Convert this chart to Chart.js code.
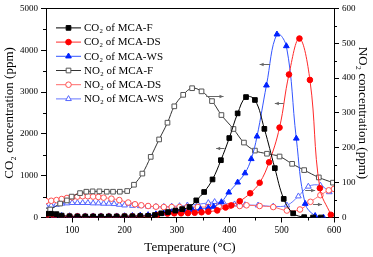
<!DOCTYPE html>
<html>
<head>
<meta charset="utf-8">
<script src="https://cdn.jsdelivr.net/npm/chart.js@4.4.0/dist/chart.umd.min.js"></script>
<style>
    html, body { margin: 0; padding: 0; background: #fff; }
</style>
</head>
<body>
<canvas id="grafico" width="373" height="257"></canvas>
<script>
//===============================================================
// ============================ DADOS ===========================
//===============================================================

// CO2 (eixo esquerdo, ppm)
const tCO2F = [50, 60, 70, 80, 95, 110, 125, 140, 155, 170, 185, 200, 215, 230, 245, 258, 270, 283, 297, 310, 324, 337, 352, 368, 384, 400, 416, 432, 449, 467, 487, 504, 522, 543, 560, 575];
const co2F  = [90, 90, 80, 45, 30, 25, 25, 25, 25, 25, 25, 30, 30, 35, 40, 60, 100, 130, 165, 200, 250, 410, 610, 910, 1370, 1900, 2490, 2880, 2810, 2120, 1180, 445, 100, 8, 0, 0];

const tCO2DS = [50, 65, 80, 95, 110, 125, 140, 155, 170, 185, 200, 215, 230, 245, 262, 282, 295, 308, 321, 334, 347, 360, 377, 393, 404, 420, 440, 458, 476, 496, 514, 534, 554, 573, 594];
const co2DS  = [30, 30, 25, 25, 25, 20, 20, 20, 20, 20, 25, 25, 30, 35, 60, 95, 100, 100, 105, 115, 125, 140, 170, 240, 290, 390, 580, 830, 1320, 2150, 3420, 4280, 3290, 700, 65];

const tCO2WS = [50, 65, 80, 95, 110, 125, 140, 155, 170, 185, 200, 215, 230, 245, 260, 275, 290, 300, 314, 330, 345, 360, 370, 385, 399, 416, 430, 442, 453, 471, 491, 509, 528, 545, 564, 580];
const co2WS  = [50, 45, 40, 35, 30, 30, 30, 30, 30, 30, 35, 40, 50, 60, 80, 100, 130, 150, 160, 180, 200, 230, 260, 370, 600, 840, 1060, 1400, 1940, 3160, 4380, 4100, 1890, 330, 40, 0];

// NO2 (eixo direito, ppm)
const tNO2F = [50, 58, 77, 90, 99, 115, 127, 139, 152, 166, 178, 191, 205, 218, 234, 250, 266, 282, 295, 312, 329, 347, 367, 385, 408, 428, 449, 472, 496, 520, 543, 571, 598];
const no2F  = [20, 23, 40, 49, 60, 70, 74, 75, 75, 74, 74, 74, 76, 94, 126, 174, 224, 272, 319, 352, 371, 362, 334, 294, 254, 215, 192, 183, 175, 154, 136, 115, 100];

const tNO2DS = [50, 60, 70, 80, 90, 100, 110, 120, 130, 140, 150, 160, 175, 190, 207, 220, 232, 245, 260, 275, 290, 305, 320, 340, 360, 380, 400, 420, 433, 458, 484, 510, 535, 555, 574, 590, 600];
const no2DS  = [47, 48, 50, 53, 56, 58, 60, 61, 61, 60, 59, 57, 54, 50, 43, 38, 35, 33, 31, 30, 30, 30, 30, 30, 30, 32, 33, 33, 35, 33, 30, 20, 23, 45, 64, 78, 82];

const tNO2WS = [50, 60, 70, 80, 90, 100, 110, 120, 130, 140, 150, 160, 170, 180, 190, 200, 215, 230, 245, 260, 275, 290, 305, 320, 340, 360, 372, 390, 410, 430, 455, 484, 510, 532, 551, 574, 591];
const no2WS  = [32, 34, 37, 40, 41, 42, 42, 42, 42, 41, 41, 40, 40, 39, 37, 35, 34, 33, 32, 31, 31, 32, 33, 35, 38, 42, 45, 40, 38, 36, 35, 32, 35, 61, 89, 92, 73];

const ticksX  = [100, 200, 300, 400, 500, 600];
const ticksY  = [0, 1000, 2000, 3000, 4000, 5000];
const ticksY1 = [0, 100, 200, 300, 400, 500, 600];

const legendas = [
    "CO₂ of MCA-F",
    "CO₂ of MCA-DS",
    "CO₂ of MCA-WS",
    "NO₂ of MCA-F",
    "NO₂ of MCA-DS",
    "NO₂ of MCA-WS"
];

// setas indicando o eixo de cada curva (temperatura inicial, final, valor no eixo esquerdo)
const setas = [
    [356, 389, 2900],
    [478, 458, 3680],
    [504, 487, 2742],
    [391, 375, 1662],
    [545, 564, 662],
    [560, 577, 333]
];

//===============================================================
// ========================== FUNÇÕES ===========================
//===============================================================

function pontos(ts, vs) {
    return ts.map((t, i) => ({ x: t, y: vs[i] }));
}

function serie(label, dados, eixo, cor, corPonto, fundo, estilo, raio) {
    return {
        label: label,
        data: dados,
        yAxisID: eixo,
        borderColor: cor,
        borderWidth: 1,
        pointStyle: estilo,
        pointRadius: raio,
        pointHoverRadius: raio,
        pointBackgroundColor: fundo,
        pointBorderColor: corPonto,
        pointBorderWidth: 1,
        tension: 0.4,
        fill: false
    };
}

const fonteSerif = "'Liberation Serif', 'Times New Roman', serif";

const datasets = [
    serie(legendas[0], pontos(tCO2F, co2F), "y", "#000000", "#000000", "#000000", "rect", 3.3),
    serie(legendas[1], pontos(tCO2DS, co2DS), "y", "#ff2a2a", "#ff0000", "#ff0000", "circle", 2.8),
    serie(legendas[2], pontos(tCO2WS, co2WS), "y", "#3355ff", "#0022ff", "#0022ff", "triangle", 3.3),
    serie(legendas[3], pontos(tNO2F, no2F), "y1", "#333333", "#555555", "#ffffff", "rect", 3.3),
    serie(legendas[4], pontos(tNO2DS, no2DS), "y1", "#ff6a6a", "#ff5050", "#ffffff", "circle", 2.8),
    serie(legendas[5], pontos(tNO2WS, no2WS), "y1", "#6677ff", "#5566ff", "#ffffff", "triangle", 3.3)
];

// moldura, ticks menores, setas e legenda
const pluginExtras = {
    id: "extras",
    afterDatasetsDraw(chart) {
        const ctx = chart.ctx;
        const area = chart.chartArea;
        const sx = chart.scales.x, sy = chart.scales.y, sy1 = chart.scales.y1;
        ctx.save();
        ctx.strokeStyle = "#000";
        ctx.lineWidth = 1;

        // moldura superior
        ctx.beginPath();
        ctx.moveTo(area.left, Math.round(area.top) + 0.5);
        ctx.lineTo(area.right, Math.round(area.top) + 0.5);
        ctx.stroke();

        // ticks menores
        ctx.beginPath();
        for (let v = 150; v < 600; v += 100) {
            const px = Math.round(sx.getPixelForValue(v)) + 0.5;
            ctx.moveTo(px, area.bottom);
            ctx.lineTo(px, area.bottom + 3);
        }
        for (let v = 500; v < 5000; v += 1000) {
            const py = Math.round(sy.getPixelForValue(v)) + 0.5;
            ctx.moveTo(area.left, py);
            ctx.lineTo(area.left - 3, py);
        }
        for (let v = 50; v < 600; v += 100) {
            const py = Math.round(sy1.getPixelForValue(v)) + 0.5;
            ctx.moveTo(area.right, py);
            ctx.lineTo(area.right + 3, py);
        }
        ctx.stroke();

        // setas
        ctx.strokeStyle = "#666";
        ctx.fillStyle = "#666";
        setas.forEach(s => {
            const x1 = sx.getPixelForValue(s[0]);
            const x2 = sx.getPixelForValue(s[1]);
            const y = Math.round(sy.getPixelForValue(s[2])) + 0.5;
            const dir = x2 > x1 ? 1 : -1;
            ctx.beginPath();
            ctx.moveTo(x1, y);
            ctx.lineTo(x2, y);
            ctx.stroke();
            ctx.beginPath();
            ctx.moveTo(x2, y);
            ctx.lineTo(x2 - dir * 4, y - 1.8);
            ctx.lineTo(x2 - dir * 4, y + 1.8);
            ctx.closePath();
            ctx.fill();
        });

        // legenda
        ctx.font = "11px " + fonteSerif;
        ctx.textBaseline = "middle";
        ctx.textAlign = "left";
        chart.data.datasets.forEach((ds, i) => {
            const y = area.top + 19.5 + i * 14.2;
            const x0 = area.left + 10;
            ctx.strokeStyle = ds.borderColor;
            ctx.lineWidth = 1;
            ctx.beginPath();
            ctx.moveTo(x0, y);
            ctx.lineTo(x0 + 25, y);
            ctx.stroke();
            ctx.fillStyle = ds.pointBackgroundColor;
            ctx.strokeStyle = ds.pointBorderColor;
            Chart.helpers.drawPoint(ctx, {
                pointStyle: ds.pointStyle,
                rotation: 0,
                radius: ds.pointRadius,
                borderWidth: 1
            }, x0 + 12.5, y);
            ctx.fillStyle = "#000";
            ctx.fillText(ds.label, x0 + 28, y + 0.5);
        });
        ctx.restore();
    }
};

const semSeparador = v => String(v);

//===============================================================
// ========================= GRÁFICO ============================
//===============================================================

const ctx = document.getElementById("grafico");

new Chart(ctx, {
    type: "line",
    data: { datasets: datasets },
    plugins: [pluginExtras],
    options: {
        responsive: false,
        animation: false,
        events: [],
        layout: { padding: { top: 4, left: 0, right: 0, bottom: 0 } },
        plugins: {
            legend: { display: false },
            tooltip: { enabled: false }
        },
        scales: {
            x: {
                type: "linear",
                position: "bottom",
                min: 50,
                max: 600,
                afterBuildTicks: s => { s.ticks = ticksX.map(v => ({ value: v })); },
                afterFit: s => { s.height = 39.5; },
                grid: { drawOnChartArea: false, drawTicks: true, tickLength: 5, color: "#000" },
                border: { display: true, color: "#000", width: 1 },
                ticks: {
                    color: "#000",
                    padding: 2,
                    maxRotation: 0,
                    callback: semSeparador,
                    font: { family: fonteSerif, size: 9.5 }
                },
                title: {
                    display: true,
                    text: "Temperature (°C)",
                    color: "#000",
                    padding: { top: 0, bottom: 2 },
                    font: { family: fonteSerif, size: 13 }
                }
            },
            y: {
                type: "linear",
                position: "left",
                min: 0,
                max: 5000,
                afterBuildTicks: s => { s.ticks = ticksY.map(v => ({ value: v })); },
                afterFit: s => { s.width = 46; },
                grid: { drawOnChartArea: false, drawTicks: true, tickLength: 5, color: "#000" },
                border: { display: true, color: "#000", width: 1 },
                ticks: {
                    color: "#000",
                    padding: 3,
                    callback: semSeparador,
                    font: { family: fonteSerif, size: 9 }
                },
                title: {
                    display: true,
                    text: "CO₂ concentration (ppm)",
                    color: "#000",
                    padding: { top: 2, bottom: 0 },
                    font: { family: fonteSerif, size: 13 }
                }
            },
            y1: {
                type: "linear",
                position: "right",
                min: 0,
                max: 600,
                afterBuildTicks: s => { s.ticks = ticksY1.map(v => ({ value: v })); },
                afterFit: s => { s.width = 39; },
                grid: { drawOnChartArea: false, drawTicks: true, tickLength: 5, color: "#000" },
                border: { display: true, color: "#000", width: 1 },
                ticks: {
                    color: "#000",
                    padding: 3,
                    callback: semSeparador,
                    font: { family: fonteSerif, size: 9 }
                },
                title: {
                    display: true,
                    text: "NO₂ concentration (ppm)",
                    color: "#000",
                    padding: { top: 3, bottom: 0 },
                    font: { family: fonteSerif, size: 13 }
                }
            }
        }
    }
});
</script>
</body>
</html>
